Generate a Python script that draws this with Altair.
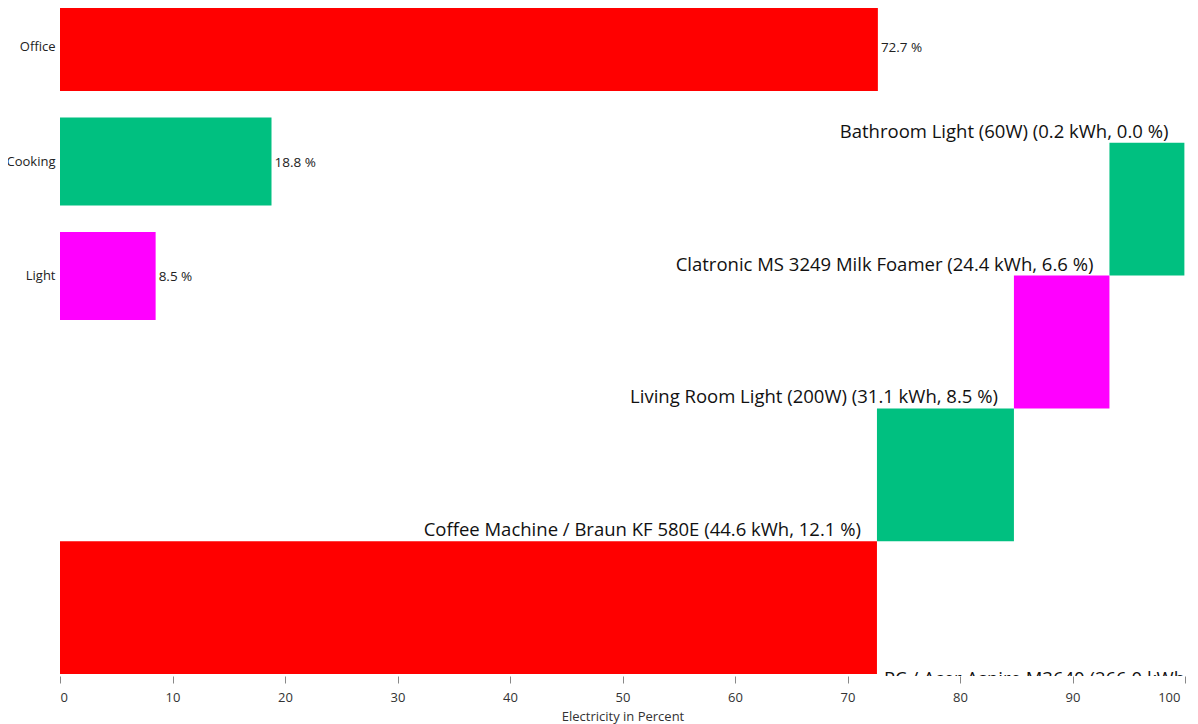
import altair as alt
import pandas as pd

# ---- data ----
categories = ["Office", "Cooking", "Light"]
category_pct = [72.7, 18.8, 8.5]
category_colors = ["#ff0000", "#00c080", "#ff00ff"]

devices = [
    "PC / Acer Aspire M3640",
    "Coffee Machine / Braun KF 580E",
    "Living Room Light (200W)",
    "Clatronic MS 3249 Milk Foamer",
    "Bathroom Light (60W)",
]
device_kwh = [266.0, 44.6, 31.1, 24.4, 0.2]
device_pct = [72.7, 12.1, 8.5, 6.6, 0.0]
device_cat = ["Office", "Cooking", "Light", "Cooking", "Light"]

FONT = "Open Sans"

# ---- tables ----
cat_df = pd.DataFrame({"category": categories, "pct": category_pct})
cat_df["label"] = [f"{v:.1f} %" for v in category_pct]

dev_df = pd.DataFrame({"device": devices, "kwh": device_kwh, "pct": device_pct, "category": device_cat})
total = dev_df["kwh"].sum()
dev_df["end"] = dev_df["kwh"].cumsum() / total * 100
dev_df["start"] = dev_df["end"] - dev_df["kwh"] / total * 100
dev_df["label"] = [f"{d} ({k:.1f} kWh, {p:.1f} %)" for d, k, p in zip(devices, device_kwh, device_pct)]
dev_df["first"] = [i == 0 for i in range(len(devices))]

dev_order = list(reversed(devices))

xscale = alt.Scale(domain=[0, 100], nice=False, zero=True)
xaxis = alt.Axis(
    title="Electricity in Percent", values=list(range(0, 101, 10)), grid=False, domain=False,
    tickSize=7, tickColor="#888", labelPadding=8, labelFontSize=13, labelColor="#333",
    labelOffset={"condition": {"test": "datum.value == 100", "value": -5}, "value": 0},
    titleFontSize=13, titleFontWeight="normal", titleColor="#333", titlePadding=6,
    labelFont=FONT, titleFont=FONT,
)
color = alt.Color("category:N", scale=alt.Scale(domain=categories, range=category_colors), legend=None)

# ---- top: category totals ----
ycat = alt.Y(
    "category:N", sort=categories,
    scale=alt.Scale(domain=categories, range=[-5, 312], paddingInner=0.2314, paddingOuter=0),
    axis=alt.Axis(title=None, ticks=False, domain=False, labelPadding=5, labelFontSize=13,
                  labelColor="#222", labelFont=FONT),
)
cat_base = alt.Chart(cat_df)
cat_bars = cat_base.mark_bar().encode(x=alt.X("pct:Q", scale=xscale, axis=xaxis), y=ycat, color=color)
cat_text = cat_base.mark_text(align="left", baseline="middle", dx=3, dy=1, fontSize=13.5, font=FONT, color="#222").encode(
    x=alt.X("pct:Q"), y=ycat, text="label:N")
top = alt.layer(cat_bars, cat_text)

# ---- bottom: cumulative device breakdown ----
yscale_dev = alt.Scale(domain=dev_order, range=[2, 666], paddingInner=0, paddingOuter=0)
ydev = alt.Y("device:N", sort=dev_order, scale=yscale_dev, axis=None)
ydev_bottom = alt.Y("device:N", sort=dev_order, scale=yscale_dev, axis=None, bandPosition=1)
dev_base = alt.Chart(dev_df)
dev_bars = dev_base.transform_filter("datum.pct > 0").mark_bar().encode(
    x=alt.X("start:Q", scale=xscale), x2="end:Q", y=ydev, color=color)
dev_text = dev_base.transform_filter("!datum.first").mark_text(
    align="right", baseline="alphabetic", dx=-16, dy=-5, fontSize=18.5, font=FONT, color="#111"
).encode(x=alt.X("start:Q"), y=ydev_bottom, text="label:N")
dev_text_first = dev_base.transform_filter("datum.first").mark_text(
    align="left", baseline="top", dx=7, dy=-4, fontSize=18.5, font=FONT, color="#111", clip=True
).encode(x=alt.X("end:Q"), y=ydev_bottom, text="label:N")
bottom = alt.layer(dev_bars, dev_text, dev_text_first)

chart = alt.layer(top, bottom).resolve_scale(y="independent").properties(
    width=1125, height=668,
    autosize=alt.AutoSizeParams(type="none"),
    padding={"left": 52, "top": 0, "right": 5, "bottom": 48},
).configure_view(stroke=None)

chart.save("out.html", embed_options={"renderer": "svg", "actions": False})
